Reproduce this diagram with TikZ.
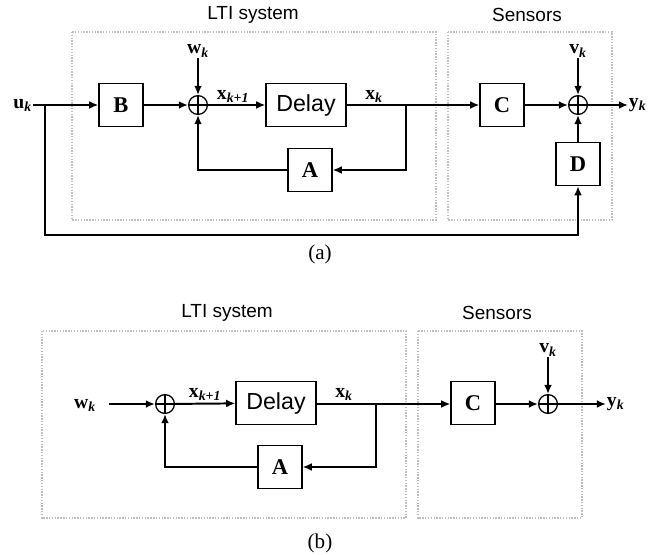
\documentclass[tikz,border=0pt]{standalone}
\usepackage{fontspec}
\setmainfont{Liberation Serif}
\setsansfont{Liberation Sans}
\usetikzlibrary{arrows.meta}
\newcommand{\vsub}[2]{\textbf{#1}\textsubscript{\bfseries\itshape #2}}

\begin{document}
\begin{tikzpicture}[x=.025cm, y=-.025cm, line width=1.4pt, >={Latex[length=6.5pt,width=5.6pt]},
	blk/.style={draw, line width=.9pt, minimum width=1.1cm, minimum height=1.08cm, inner sep=0, font=\bfseries\fontsize{16}{18}\selectfont},
	dly/.style={blk, minimum width=2cm, font=\sffamily\fontsize{16.5}{18}\selectfont},
	sum/.style={draw, circle, line width=.9pt, minimum size=.47cm, inner sep=0,
		path picture={\draw[line width=.9pt] (path picture bounding box.north) -- (path picture bounding box.south)
			(path picture bounding box.west) -- (path picture bounding box.east);}},
	lbl/.style={inner sep=0, font=\fontsize{14}{16}\selectfont},
	ttl/.style={font=\sffamily\fontsize{13.5}{16}\selectfont},
	capt/.style={font=\fontsize{15}{18}\selectfont},
	frame/.style={draw=gray!50, line width=.8pt, dash pattern=on 1pt off 1pt}]
	\useasboundingbox (0,0) rectangle (649,554);
	% (a)
	\draw[frame] (72,32) rectangle (436,220);
	\draw[frame] (448,32) rectangle (612,220);
	\node[ttl] (ltia) at (253,15) {LTI system};
	\node[ttl] (sena) at (527,15) {Sensors};
	\node[lbl, anchor=east] (ua) at (33,105) {\vsub{u}{k}};
	\node[blk] (Ba) at (121,105) {B};
	\node[sum] (s1a) at (198,105) {};
	\node[lbl, anchor=south] (wa) at (198,58) {\vsub{w}{k}};
	\node[lbl] (xpa) at (233,96) {\vsub{x}{k+1}};
	\node[dly] (Dela) at (306,105) {Delay};
	\node[lbl] (xa) at (374,96) {\vsub{x}{k}};
	\node[blk] (Aa) at (310,170) {A};
	\node[blk] (Ca) at (502,105) {C};
	\node[sum] (s2a) at (578,105) {};
	\node[lbl, anchor=south] (va) at (578,58) {\vsub{v}{k}};
	\node[blk] (Dsa) at (578,164) {D};
	\node[lbl, anchor=west] (ya) at (628,105) {\vsub{y}{k}};
	\coordinate (ja) at (45,105);
	\coordinate (ba) at (45,235);
	\coordinate (ka) at (406,105);
	\draw[->] (ua.east |- Ba) -- (Ba.west);
	\draw[->] (ja) -- (ba) -| (Dsa.south);
	\draw[->] (Ba) -- (s1a);
	\draw[->] (wa.south) -- (s1a.north);
	\draw[->] (s1a) -- (Dela);
	\draw[->] (Dela) -- (Ca);
	\draw[->] (ka) |- (Aa.east);
	\draw[->] (Aa.west) -| (s1a.south);
	\draw[->] (Ca) -- (s2a);
	\draw[->] (va.south) -- (s2a.north);
	\draw[->] (Dsa) -- (s2a);
	\draw[->] (s2a) -- (ya.west |- s2a);
	\node[capt] (capa) at (320,254) {(a)};
	% (b)
	\draw[frame] (42,331) rectangle (406,518);
	\draw[frame] (418,331) rectangle (582,518);
	\node[ttl] (ltib) at (227,313) {LTI system};
	\node[ttl] (senb) at (497,313) {Sensors};
	\node[lbl] (wb) at (85,405) {\vsub{w}{k}};
	\node[sum] (s1b) at (165,404) {};
	\node[lbl] (xpb) at (205,394) {\vsub{x}{k+1}};
	\node[dly] (Delb) at (276,403) {Delay};
	\node[lbl] (xb) at (344,394) {\vsub{x}{k}};
	\node[blk] (Ab) at (280,467) {A};
	\node[blk] (Cb) at (473,403) {C};
	\node[sum] (s2b) at (548,404) {};
	\node[lbl, anchor=south] (vb) at (548,357) {\vsub{v}{k}};
	\node[lbl, anchor=west] (yb) at (606,404) {\vsub{y}{k}};
	\coordinate (kb) at (376,404);
	\draw[->] (wb.east |- s1b) ++(12,0) -- (s1b.west);
	\draw[->] (s1b) -- (Delb);
	\draw[->] (Delb.east |- s1b) -- (Cb.west |- s1b);
	\draw[->] (kb) |- (Ab.east);
	\draw[->] (Ab.west) -| (s1b.south);
	\draw[->] (Cb.east |- s2b) -- (s2b.west);
	\draw[->] (vb.south) -- (s2b.north);
	\draw[->] (s2b) -- (yb.west |- s2b);
	\node[capt] (capb) at (320,543) {(b)};
\end{tikzpicture}
\end{document}
